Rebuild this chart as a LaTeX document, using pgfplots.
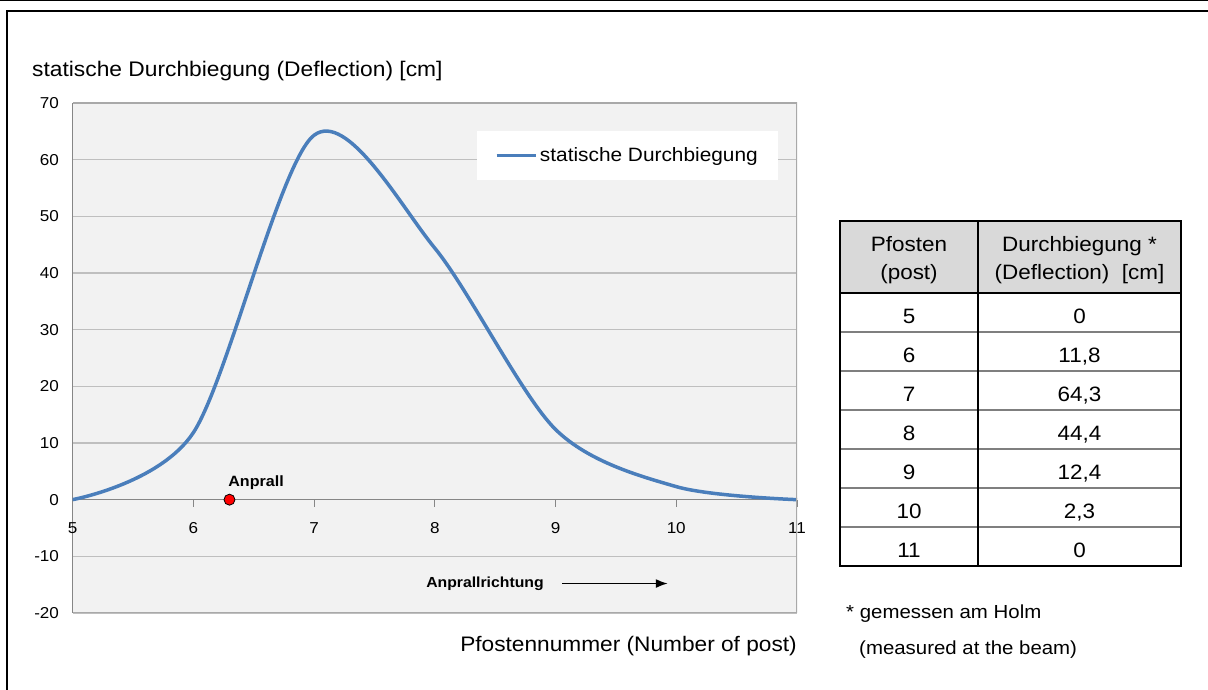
\documentclass[border=0pt]{standalone}
\usepackage{fontspec}
\setmainfont{Liberation Sans}[FakeStretch=1.08]
\usepackage{pgfplots}
\pgfplotsset{compat=1.18}
\usetikzlibrary{arrows.meta}
\definecolor{curveblue}{HTML}{4A7EBB}
\definecolor{plotbg}{HTML}{F2F2F2}
\definecolor{gridgray}{HTML}{BFBFBF}
\definecolor{axisgray}{HTML}{868686}
\definecolor{bordergray}{HTML}{A9A9A9}
\definecolor{headgray}{HTML}{D9D9D9}
\definecolor{sepgray}{HTML}{7F7F7F}
\newcommand\fs[1]{\fontsize{#1}{#1}\selectfont}

\begin{document}
\begin{tikzpicture}[x=1pt,y=1pt]
\useasboundingbox (0,0) rectangle (1208,690);
\fill[white] (0,0) rectangle (1208,690);
\draw[line width=1pt] (0,689.5) -- (1208,689.5);
\draw[line width=2.3pt] (7,-5) -- (7,679) -- (1215,679);

\begin{axis}[
  at={(72.5pt,77pt)}, anchor=south west,
  scale only axis, width=724.5pt, height=510pt,
  xmin=5, xmax=11, ymin=-20, ymax=70,
  axis x line=middle, axis y line=left,
  axis line style={-},
  every inner x axis line/.append style={-},
  every outer y axis line/.append style={-},
  x axis line style={axisgray, line width=1.5pt},
  y axis line style={axisgray, line width=1.8pt},
  hide obscured x ticks=false, hide obscured y ticks=false,
  xtick={5,6,7,8,9,10,11}, xticklabels={5,6,7,8,9,10,11},
  ytick={-20,-10,0,10,20,30,40,50,60,70},
  yticklabels={-20,-10,0,10,20,30,40,50,60,70},
  tick align=outside, major tick length=7pt,
  xtick style={axisgray, line width=1pt}, ytick style={draw=none},
  ymajorgrids, grid style={gridgray, line width=1.3pt},
  axis background/.style={fill=plotbg},
  ticklabel style={font=\fs{15.8}},
  xticklabel style={yshift=-12.5pt},
  yticklabel style={xshift=-3pt},
  legend cell align=left,
  legend style={at={(0.558,0.945)}, anchor=north west, fill=white, draw=none,
    inner xsep=18pt, inner ysep=14pt, font=\fs{19.3}, nodes={inner sep=2.5pt}},
  legend image code/.code={\draw[#1] (0pt,0pt) -- (39pt,0pt);},
]
\addplot[curveblue, line width=3.5pt, smooth] coordinates {
  (5,0) (6,11.8) (7,64.3) (8,44.4) (9,12.4) (10,2.3) (11,0)};
\addlegendentry{statische Durchbiegung}
\addplot[forget plot, only marks, mark=*, mark size=5.5pt,
  mark options={fill=red, draw=black, line width=0.8pt}] coordinates {(6.3,0)};
\draw[bordergray, line width=1.5pt] (rel axis cs:0,0) -- (rel axis cs:1,0) -- (rel axis cs:1,1) -- (rel axis cs:0,1);
\node[font={\bfseries\fs{14.9}}] at (axis cs:6.52,3.0) {Anprall};
\node[font={\bfseries\fs{14.6}}] at (axis cs:8.416,-14.8) {Anprallrichtung};
\draw[-{Latex[length=12pt,width=9pt]}, line width=1.6pt] (axis cs:9.054,-14.8) -- (axis cs:9.93,-14.8);
\end{axis}

% titles
\node[anchor=base west, font=\fs{21.1}, inner sep=0pt] at (32,613) {statische Durchbiegung (Deflection) [cm]};
\node[anchor=base east, font=\fs{21}, inner sep=0pt] at (797,38) {Pfostennummer (Number of post)};

% table
\fill[headgray] (840,469) rectangle (1181,397);
\foreach \k in {1,...,6} {
  \draw[sepgray, line width=2pt] (840,{397-38.93*\k}) -- (1181,{397-38.93*\k});
}
\draw[line width=2pt] (840,397) -- (1181,397);
\draw[line width=2pt] (978,469) -- (978,124);
\draw[line width=2.5pt] (840,469) rectangle (1181,124);
\begin{scope}[every node/.style={font=\fs{20.8}, inner sep=0pt, anchor=base}]
\node at (909,438) {Pfosten};
\node at (909,410) {(post)};
\node at (1079.5,438) {Durchbiegung *};
\node at (1079.5,410) {(Deflection)\ \ [cm]};
\foreach \k/\p/\v in {0/5/0, 1/6/{11,8}, 2/7/{64,3}, 3/8/{44,4}, 4/9/{12,4}, 5/10/{2,3}, 6/11/0} {
  \node at (909,{397-38.93*\k-30.5}) {\p};
  \node at (1079.5,{397-38.93*\k-30.5}) {\v};
}
\end{scope}

% footnote
\node[anchor=base west, font=\fs{18.9}, inner sep=0pt] at (846,71) {* gemessen am Holm};
\node[anchor=base west, font=\fs{18.9}, inner sep=0pt] at (859,35) {(measured at the beam)};
\end{tikzpicture}
\end{document}
